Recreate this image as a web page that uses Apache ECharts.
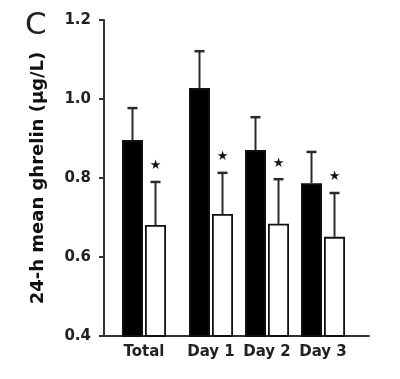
<!DOCTYPE html>
<html>
<head>
<meta charset="utf-8">
<script src="https://cdn.jsdelivr.net/npm/echarts@6/dist/echarts.min.js"></script>
<style>html,body{margin:0;padding:0;background:#fff}#c{width:400px;height:379px}</style>
</head>
<body>
<div id="c"></div>
<script>
// ---- data ----
var categories = ['Total', 'Day 1', 'Day 2', 'Day 3'];
var blackMean = [0.896, 1.028, 0.871, 0.787];
var blackErr  = [0.081, 0.093, 0.083, 0.079];
var whiteMean = [0.681, 0.709, 0.684, 0.651];
var whiteErr  = [0.109, 0.104, 0.113, 0.111];
var significance = ['*', '*', '*', '*'];
var yTicks = [0.4, 0.6, 0.8, 1.0, 1.2];
var yTitle = '24-h mean ghrelin (\u00b5g/L)';
var panelLetter = 'C';

// ---- layout / style ----
var FONT = 'DejaVu Sans';
var BAR_W = 21, BAR_GAP = 2;
var OFF = (BAR_W + BAR_GAP) / 2;
var yMin = yTicks[0], yMax = yTicks[yTicks.length - 1];

function errSeries(gridIdx, idxs, means, errs, offset, stars) {
  return {
    type: 'custom', xAxisIndex: gridIdx, yAxisIndex: gridIdx, z: 1,
    data: idxs.map(function (k, i) { return [i, means[k] + errs[k], means[k], stars ? stars[k] : '']; }),
    renderItem: function (params, api) {
      var top = api.coord([api.value(0), api.value(1)]);
      var base = api.coord([api.value(0), api.value(2)]);
      var x = top[0] + offset;
      var children = [
        { type: 'line', shape: { x1: x, y1: base[1], x2: x, y2: top[1] }, style: { stroke: '#2a2a2a', lineWidth: 2 } },
        { type: 'line', shape: { x1: x - 5, y1: top[1], x2: x + 5, y2: top[1] }, style: { stroke: '#2a2a2a', lineWidth: 2.5 } }
      ];
      var s = api.value(3);
      if (s) {
        children.push({ type: 'text', style: { text: '\u2605', x: x, y: top[1] - 16, align: 'center', verticalAlign: 'middle', fill: '#111', font: 'bold 13px ' + FONT } });
      }
      return { type: 'group', children: children };
    }
  };
}

function barSeries(gridIdx, idxs, vals, color) {
  return {
    type: 'bar', xAxisIndex: gridIdx, yAxisIndex: gridIdx, z: 2,
    barWidth: BAR_W, barGap: (BAR_GAP / BAR_W * 100) + '%',
    data: idxs.map(function (k) { return vals[k]; }),
    itemStyle: { color: color, borderColor: '#111', borderWidth: 1.8 },
    silent: true
  };
}

var idxA = [0], idxB = [1, 2, 3];
var hiddenY = function (g) {
  return { gridIndex: g, type: 'value', min: yMin, max: yMax, show: false };
};
var catX = function (g, idxs) {
  return {
    gridIndex: g, type: 'category', data: idxs.map(function (k) { return categories[k]; }),
    axisLine: { show: false }, axisTick: { show: false },
    axisLabel: { interval: 0, hideOverlap: false, color: '#222', fontFamily: FONT, fontWeight: 'bold', fontSize: 15, margin: 9 }
  };
};

var option = {
  animation: false,
  backgroundColor: '#fff',
  grid: [
    { left: 116, top: 20, width: 56, height: 316 },
    { left: 183, top: 20, width: 168, height: 316 },
    { left: 104, top: 20, width: 265, height: 316 }
  ],
  xAxis: [
    catX(0, idxA),
    catX(1, idxB),
    { gridIndex: 2, type: 'value', min: 0, max: 1, axisLine: { show: true, lineStyle: { color: '#333', width: 2 } }, axisTick: { show: false }, axisLabel: { show: false }, splitLine: { show: false } }
  ],
  yAxis: [
    hiddenY(0), hiddenY(1),
    {
      gridIndex: 2, type: 'value', min: yMin, max: yMax, interval: 0.2,
      axisLine: { show: true, lineStyle: { color: '#333', width: 2 } },
      axisTick: { show: true, length: 5, lineStyle: { color: '#333', width: 2 } },
      axisLabel: { color: '#222', fontFamily: FONT, fontWeight: 'bold', fontSize: 15, margin: 13, formatter: function (v) { return v.toFixed(1); } },
      splitLine: { show: false },
      name: yTitle, nameLocation: 'middle', nameRotate: 90, nameGap: 57,
      nameTextStyle: { color: '#111', fontFamily: FONT, fontWeight: 'bold', fontSize: 18 }
    }
  ],
  graphic: [
    { type: 'text', left: 25, top: 10, style: { text: panelLetter, font: '31px ' + FONT, fill: '#222' } }
  ],
  series: [
    errSeries(0, idxA, blackMean, blackErr, -OFF, null),
    errSeries(0, idxA, whiteMean, whiteErr, OFF, significance),
    errSeries(1, idxB, blackMean, blackErr, -OFF, null),
    errSeries(1, idxB, whiteMean, whiteErr, OFF, significance),
    barSeries(0, idxA, blackMean, '#000'),
    barSeries(0, idxA, whiteMean, '#fff'),
    barSeries(1, idxB, blackMean, '#000'),
    barSeries(1, idxB, whiteMean, '#fff')
  ]
};
echarts.init(document.getElementById('c'), null, { renderer: 'canvas' }).setOption(option);
</script>
</body>
</html>
